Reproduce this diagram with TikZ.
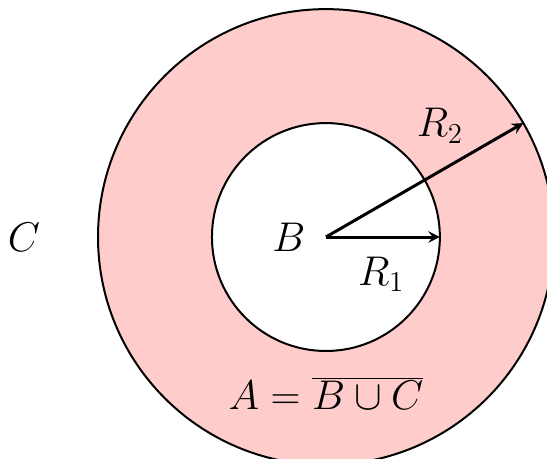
\documentclass[tikz,border=0pt]{standalone}
\tikzset{
  ring/.style={draw=black, line width=1pt},
  radius arrow/.style={-stealth, line width=1.5pt},
  lbl/.style={font=\fontsize{19.5}{23}\selectfont, inner sep=0pt}
}
\begin{document}
\begin{tikzpicture}
\useasboundingbox (-5.72,-3.89) rectangle (3.88,4.16);
\clip (-5.72,-3.89) rectangle (3.88,4.16);
\coordinate (O) at (0,0);
\draw[ring, fill=red!20] (O) circle (4);
\draw[ring, fill=white] (O) circle (2);
\coordinate (P1) at (2,0);
\coordinate (P2) at (30:4);
\draw[radius arrow] (O) -- (P1);
\draw[radius arrow] (O) -- (P2);
\node[lbl] (B) at (-0.65,0) {$B$};
\node[lbl] (C) at (-5.3,0) {$C$};
\node[lbl] (R1) at (0.97,-0.65) {$R_1$};
\node[lbl] (R2) at (2.0,1.95) {$R_2$};
\node[lbl] (A) at (0,-2.74) {$A=\overline{B\cup C}$};
\end{tikzpicture}
\end{document}
